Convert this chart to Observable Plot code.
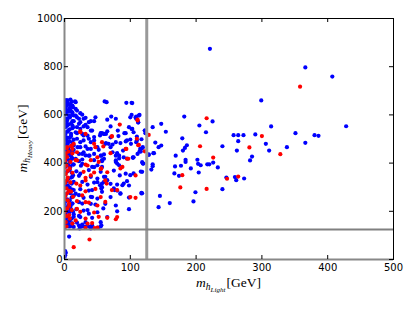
<!DOCTYPE html>
<html><head><meta charset="utf-8">
<script src="https://cdn.jsdelivr.net/npm/d3@7"></script>
<script src="https://cdn.jsdelivr.net/npm/@observablehq/plot@0.6"></script>
<style>body{margin:0;background:#fff;} svg{display:block;}</style>
</head><body><div id="chart"></div>
<script>
const xTicks = [0,100,200,300,400,500];
const yTicks = [0,200,400,600,800,1000];
const refX = [125];
const refY = [125];
const zeroX = [0];
const zeroY = [0];

const blueDense = [[1,140],[3,152],[6,145],[9,138],[12,150],[2,165],[5,175],[8,160],[11,170],[14,188],[1,190],[4,200],[7,195],[10,208],[13,198],[2,215],[6,225],[9,220],[12,232],[1,240],[4,250],[8,245],[11,258],[14,265],[2,270],[6,280],[9,275],[12,290],[1,300],[5,308],[8,298],[11,315],[14,322],[3,325],[6,335],[10,340],[13,350],[1,355],[4,365],[8,372],[11,360],[2,385],[6,392],[9,385],[13,395],[1,408],[5,415],[8,405],[12,420],[3,430],[7,438],[10,428],[2,452],[6,460],[9,450],[14,455],[1,475],[5,480],[8,490],[12,485],[3,495],[7,505],[10,512],[1,520],[5,530],[8,540],[12,545],[2,550],[6,560],[10,565],[1,575],[4,585],[8,590],[12,600],[2,605],[6,615],[9,620],[1,625],[3,640],[7,645],[11,655],[2,660],[0,132],[0,170],[0,230],[0,310],[0,395],[0,440],[0,500],[0,560],[0,600],[0,650],
[1,35],[1,18],[0,8],[2,28],[7,95],[7,137],[24,137],[28,137],[32,137],[41,137],[51,132],[55,137]];

const blueLeft = [[3,660],[9,664],[4,649],[17,653],[61,656],[64,653],[94,650],[2,635],[8,629],[12,639],[3,618],[10,614],[17,625],[24,607],[7,598],[14,598],[19,590],[29,584],[40,574],[47,590],[4,577],[12,574],[22,563],[32,559],[65,580],[71,593],[78,584],[100,590],[109,584],[4,556],[13,549],[24,542],[35,549],[42,535],[57,524],[65,532],[54,515],[81,535],[91,524],[98,549],[105,528],[4,532],[10,521],[19,524],[29,515],[37,501],[45,494],[3,507],[14,497],[24,487],[70,507],[78,487],[62,480],[85,483],[95,494],[109,487],[4,483],[11,473],[20,466],[32,469],[40,459],[52,455],[70,466],[4,459],[12,445],[27,438],[37,431],[55,431],[80,438],[90,424],[111,438],
[103,649],[102,600],[109,593],[114,600],[112,570],[70,552],[103,542],[60,521],[63,521],[82,512],[93,524],[122,535],[124,524],[63,483],[67,480],[73,477],[93,490],[100,498],[101,480],[110,494],[89,452],[115,459],[119,466],[114,448],[128,434],[80,441],[78,431],[73,445],[60,418],[56,431],[104,424],
[57,412],[78,405],[80,398],[83,391],[95,419],[83,419],[120,398],[118,364],[100,350],[105,357],[95,325],[90,315],[88,308],[80,311],[62,343],[65,329],[60,322],[57,315],[75,295],[76,288],[56,295],[85,274],[98,257],[117,277],[80,200],[98,209],[56,142],
[29,445],[38,431],[60,436],[83,431],[78,411],[105,424],[27,397],[45,383],[75,369],[84,349],[93,356],[24,356],[50,321],[70,314],[57,300],[80,286],[98,307],[37,286],[17,273],[42,259],[70,259],[85,273],[22,238],[40,231],[62,231],[78,224],[29,203],[37,190],[50,196],[65,176],[24,176],[32,155],[55,155],[22,141],[37,137],
[9,412],[22,408],[27,415],[45,412],[57,408],[14,394],[25,389],[42,384],[50,391],[57,384],[7,371],[18,366],[37,371],[55,364],[12,343],[22,347],[40,343],[50,336],[60,343],[9,319],[27,322],[35,311],[45,319],[54,308],[14,288],[24,292],[42,288],[57,281],[22,267],[29,256],[40,260],[50,253],[12,232],[27,232],[47,228],[9,205],[18,209],[35,205],[59,212],[14,177],[22,181],[42,173],[4,156],[19,153],[27,145],[42,142],[14,135],[23,129],[40,129],
[5,660],[16,656],[3,639],[9,643],[13,632],[7,625],[19,618],[4,615],[12,611],[27,601],[17,597],[8,590],[3,584],[22,584],[32,588],[14,574],[24,570],[37,570],[45,574],[4,563],[12,556],[19,549],[29,552],[40,535],[7,538],[17,528],[27,521],[35,514],[45,508],[55,524],[9,508],[19,501],[29,494],[40,487],[4,480],[14,473],[24,466],[35,459],[50,466],[60,521],[2,452],[12,445],[22,438],[32,432],[45,438],[17,418]];

const blueSparse = [[299,660],[182,593],[225,573],[205,556],[147,563],[134,549],[154,530],[215,528],[122,535],[123,524],[257,516],[264,516],[272,516],[290,519],[264,491],[179,503],[138,485],[147,473],[143,466],[186,474],[183,463],[180,452],[240,470],[306,480],[311,452],[262,452],[136,441],[118,462],[116,448],[169,431],[285,427],[282,411],[202,414],[184,414],[184,405],[203,397],[207,391],[217,395],[220,395],[226,402],[233,382],[192,378],[177,389],[168,386],[134,395],[134,387],[132,373],[167,357],[174,347],[204,361],[246,340],[259,342],[261,329],[273,336],[240,292],[199,279],[145,264],[118,275],[116,365],[118,404],[119,398],[143,217],[160,234],[196,241],[117,274],
[221,874],[102,650],[113,597],[108,589],[112,568],[102,542],[110,510],[117,499],[104,422],[128,436],[135,441],
[366,797],[407,759],[314,552],[428,553],[351,524],[380,516],[386,513],[366,484],[338,466]];

const redDense = [[2,155],[8,170],[3,180],[1,200],[4,212],[7,222],[5,245],[1,262],[4,275],[7,285],[3,295],[1,318],[9,320],[4,330],[2,355],[5,368],[8,378],[3,390],[1,410],[4,425],[2,440],[6,448],[3,462],[10,470],[7,232],[10,282],[11,205],[5,340],[3,137],[0,185],[0,250],[0,380],[12,360],[9,405],
[14,51],[38,83],[46,130]];

const redLeft = [[24,532],[32,521],[84,560],[72,510],[57,487],[93,459],[110,501],[4,466],[11,473],[12,440],
[111,580],[72,512],[59,469],[113,476],[94,459],[97,418],
[56,378],[88,384],[85,378],[72,288],[80,288],[64,315],[62,239],[65,173],[78,167],
[50,424],[70,441],[95,418],[19,411],[35,390],[55,376],[65,362],[108,349],[40,349],[32,328],[62,328],[47,293],[24,307],[27,266],[55,259],[100,259],[32,238],[50,224],[19,210],[80,176],[17,162],[42,151],[50,132],
[17,412],[40,412],[52,405],[32,394],[29,364],[45,361],[32,339],[18,315],[32,283],[13,260],[19,242],[37,236],[24,198],[45,195],[7,184],[32,170],[52,177],[12,149],[35,149],[32,131],
[24,528],[14,480],[45,480],[47,466],[2,425],[19,445],[12,459]];

const redSparse = [[216,586],[128,517],[122,449],[206,470],[281,465],[300,512],[226,423],[179,350],[247,335],[264,344],[176,299],[216,293],[108,256],[111,577],[112,474],[358,717],[328,437]];

const blue = [...blueDense, ...blueLeft, ...blueSparse];
const red = [...redDense, ...redLeft, ...redSparse];

const W = 415, H = 312, mL = 64, mR = 22, mT = 18, mB = 53;
const innerH = H - mT - mB, innerW = W - mL - mR, tl = 4;

const chart = Plot.plot({
  width: W, height: H,
  marginLeft: mL, marginRight: mR, marginTop: mT, marginBottom: mB,
  x: {domain: [0, 500]},
  y: {domain: [0, 1000]},
  style: {fontFamily: "DejaVu Sans", fontSize: "10px", background: "#fff", color: "#000"},
  marks: [
    Plot.dot(blue, {x: d => d[0], y: d => d[1], r: 2.1, fill: "#0000ff", clip: true}),
    Plot.dot(red, {x: d => d[0], y: d => d[1], r: 2.1, fill: "#ff0000", clip: true}),
    Plot.ruleX(refX, {stroke: "#999", strokeWidth: 3}),
    Plot.ruleY(refY, {stroke: "#808080", strokeWidth: 2}),
    Plot.frame({stroke: "#000"}),
    Plot.ruleX(zeroX, {stroke: "#888", strokeWidth: 2}),
    Plot.ruleY(zeroY, {stroke: "#888", strokeWidth: 2}),
    Plot.tickX(xTicks, {x: d => d, insetTop: innerH - tl, stroke: "#000"}),
    Plot.tickX(xTicks, {x: d => d, insetBottom: innerH - tl, stroke: "#000"}),
    Plot.tickY(yTicks, {y: d => d, insetLeft: innerW - tl, stroke: "#000"}),
    Plot.tickY(yTicks, {y: d => d, insetRight: innerW - tl, stroke: "#000"}),
    Plot.axisX({ticks: xTicks, tickSize: 0, tickPadding: 4, label: null, fontSize: 10, tickFormat: d => String(d)}),
    Plot.axisY({ticks: yTicks, tickSize: 0, tickPadding: 2, label: null, fontSize: 10, tickFormat: d => String(d)})
  ]
});
document.getElementById("chart").append(chart);

const svg = d3.select(chart);
function mathLabel(g, sub) {
  const t = g.append("text").attr("text-anchor", "middle")
    .style("font-family", "'Liberation Serif', 'DejaVu Serif', serif").style("font-size", "13.5px").attr("fill", "#000");
  t.append("tspan").attr("font-style", "italic").text("m");
  t.append("tspan").attr("font-style", "italic").attr("font-size", "9.5px").attr("dy", 3).text("h");
  t.append("tspan").attr("font-style", "italic").attr("font-size", "7px").attr("dy", 2).text(sub);
  t.append("tspan").attr("dy", -5).attr("dx", 1).text("[GeV]");
}
mathLabel(svg.append("g").attr("transform", `translate(${mL + innerW / 2},287)`), "Light");
mathLabel(svg.append("g").attr("transform", `translate(27,${mT + innerH / 2}) rotate(-90)`), "Heavy");
</script></body></html>
